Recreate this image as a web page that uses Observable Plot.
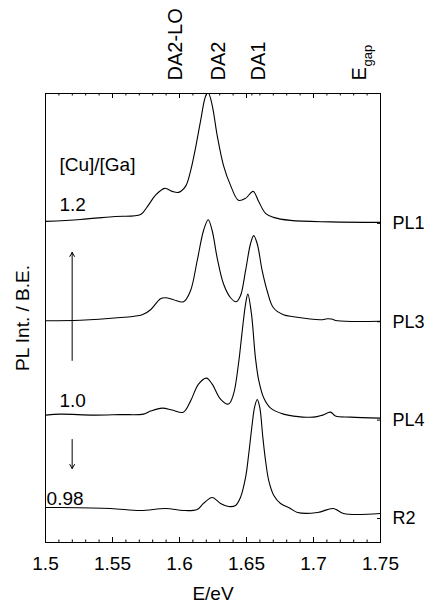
<!DOCTYPE html>
<html><head><meta charset="utf-8">
<script src="https://cdn.jsdelivr.net/npm/d3@7"></script>
<script src="https://cdn.jsdelivr.net/npm/@observablehq/plot@0.6"></script>
<style>
body{margin:0;background:#fff}
svg{font-family:"Liberation Sans",Arial,sans-serif}
</style>
</head><body><div id="chart"></div>
<script>
// Trace names (right axis) and vertical offsets of each baseline
const traceNames = ["R2", "PL4", "PL3", "PL1"];
const traceOffsets = [0, 10, 20, 30];

// [E (eV), intensity above baseline]
const pl1 = [[1.500,0.2],[1.526,0.4],[1.552,0.7],[1.571,0.9],[1.576,1.7],[1.582,2.85],[1.589,3.56],[1.5946,3.25],[1.5993,3.15],[1.6045,3.76],[1.6082,5.29],[1.6119,7.63],[1.6157,10.4],[1.6194,12.9],[1.6214,13.3],[1.6244,12.0],[1.6281,8.95],[1.6328,5.9],[1.6381,3.86],[1.644,2.34],[1.6493,2.54],[1.655,3.25],[1.659,2.24],[1.6642,1.02],[1.6701,0.61],[1.6828,0.3],[1.7127,0.15],[1.75,0.1]];
const pl3 = [[1.5,0.1],[1.526,0.15],[1.5537,0.4],[1.5722,0.7],[1.5784,1.22],[1.5858,2.34],[1.5896,2.44],[1.5955,2.24],[1.603,2.03],[1.6082,3.15],[1.6132,6.2],[1.6179,9.25],[1.6214,10.37],[1.6244,9.25],[1.6281,6.5],[1.6328,3.86],[1.6381,2.44],[1.6423,2.03],[1.6455,2.64],[1.6493,5.19],[1.653,7.93],[1.6554,8.75],[1.658,7.93],[1.6617,5.19],[1.6654,3.15],[1.6701,1.42],[1.6776,0.71],[1.6851,0.51],[1.7052,0.2],[1.7104,0.3],[1.7134,0.27],[1.7179,0.1],[1.75,0.05]];
const pl4 = [[1.5,0.51],[1.5112,0.61],[1.5358,0.51],[1.556,0.56],[1.5731,0.61],[1.5784,0.92],[1.5871,1.22],[1.5946,1.02],[1.6028,0.81],[1.6082,1.93],[1.6142,3.66],[1.6201,4.27],[1.6244,3.66],[1.6306,2.14],[1.6366,1.63],[1.6403,2.64],[1.644,5.7],[1.6468,9.05],[1.6493,11.8],[1.651,12.81],[1.6537,10.8],[1.6567,6.3],[1.6592,4.0],[1.6629,2.24],[1.668,1.22],[1.6776,0.61],[1.6851,0.41],[1.7,0.3],[1.7067,0.51],[1.7127,0.81],[1.7164,0.41],[1.7276,0.3],[1.75,0.2]];
const r2 = [[1.5,1.12],[1.5112,1.12],[1.5485,1.02],[1.5709,0.81],[1.5896,1.02],[1.603,0.81],[1.6132,0.92],[1.6179,1.53],[1.6244,2.14],[1.6306,1.53],[1.6366,1.22],[1.6418,1.32],[1.6455,2.14],[1.6493,4.17],[1.6517,6.61],[1.6543,9.66],[1.656,11.29],[1.658,12.1],[1.6599,11.29],[1.6622,8.24],[1.6642,5.9],[1.6666,3.86],[1.6704,2.34],[1.6754,1.53],[1.6828,1.02],[1.6881,0.61],[1.703,0.61],[1.7149,1.02],[1.7224,0.51],[1.75,0.51]];

// Axis ticks and labels
const majorTicks = [1.5, 1.55, 1.6, 1.65, 1.7, 1.75];
const tickLabels = ["1.5", "1.55", "1.6", "1.65", "1.7", "1.75"];
const minorTicks = d3.range(0, 26).map(i => +(1.5 + i * 0.01).toFixed(2));
const topExtraTicks = [1.654];

// Peak labels on top
const peakLabels = ["DA2-LO", "DA2", "DA1", "E"];
const peakPos = [1.591, 1.6231, 1.653, 1.7283];

// Annotations
const noteTexts = ["[Cu]/[Ga]", "1.2", "1.0", "0.98"];
const noteX = [1.5104, 1.5104, 1.5104, 1.5008];
const noteY = [35.9, 31.83, 12.0, 2.03];
const arrowX = 1.5199;
const arrowsY1 = [16.07, 8.03];
const arrowsY2 = [27.05, 5.08];

const rows = [];
[r2, pl4, pl3, pl1].forEach((t, k) =>
  t.forEach(([e, v]) => rows.push({trace: traceNames[k], E: e, I: v + traceOffsets[k]})));

// layout
const W = 433, H = 602, mL = 45, mR = 53, mT = 93, mB = 60;
const frameH = H - mT - mB, frameW = W - mL - mR;
const majorLen = 5, minorLen = 2.5, rightLen = 3;

const chart = Plot.plot({
  width: W, height: H,
  marginLeft: mL, marginRight: mR, marginTop: mT, marginBottom: mB,
  style: {fontFamily: '"Liberation Sans", Arial, sans-serif', fontSize: "19px", color: "black", background: "white"},
  x: {domain: [1.5, 1.75], label: null},
  y: {domain: [-2.44, 43.2], label: null},
  marks: [
    Plot.line(rows, {x: "E", y: "I", z: "trace", stroke: "black", strokeWidth: 1.1, curve: "catmull-rom", clip: true}),
    Plot.frame({stroke: "black", strokeWidth: 1}),
    // inward ticks
    Plot.ruleX(minorTicks, {x: d => d, insetTop: frameH - minorLen, stroke: "black"}),
    Plot.ruleX(majorTicks, {x: d => d, insetTop: frameH - majorLen, stroke: "black"}),
    Plot.ruleX(minorTicks, {x: d => d, insetBottom: frameH - minorLen, stroke: "black"}),
    Plot.ruleX(majorTicks, {x: d => d, insetBottom: frameH - majorLen, stroke: "black"}),
    Plot.ruleX(topExtraTicks, {x: d => d, insetBottom: frameH - minorLen, stroke: "black"}),
    Plot.ruleY(traceOffsets, {y: d => d, insetLeft: frameW - rightLen, stroke: "black"}),
    Plot.axisX({anchor: "bottom", ticks: majorTicks, tickSize: 0, tickPadding: 14, fontSize: 19,
      tickFormat: d => tickLabels[majorTicks.indexOf(d)], label: null}),
    Plot.axisY({anchor: "right", ticks: traceOffsets, tickSize: 0, tickPadding: 12, fontSize: 18,
      tickFormat: d => traceNames[traceOffsets.indexOf(d)], label: null}),
    // axis titles
    Plot.text(["E/eV"], {frameAnchor: "bottom", dy: 57, lineAnchor: "bottom", fontSize: 19}),
    Plot.text(["PL Int. / B.E."], {frameAnchor: "left", dx: -23, rotate: -90, textAnchor: "middle", fontSize: 19}),
    // peak labels
    Plot.text(peakLabels, {x: peakPos, text: d => d, frameAnchor: "top", dy: -13, rotate: -90, textAnchor: "start", fontSize: 20}),
    Plot.text(["gap"], {x: [peakPos[3]], text: d => d, frameAnchor: "top", dy: -27, dx: 11, rotate: -90, textAnchor: "start", fontSize: 13}),
    // annotations
    Plot.text(noteTexts, {x: noteX, y: noteY, text: d => d, textAnchor: "start", fontSize: 19}),
    Plot.arrow(arrowsY1, {x1: () => arrowX, x2: () => arrowX, y1: d => d, y2: (d, i) => arrowsY2[i], stroke: "black", strokeWidth: 1, headLength: 7, bend: 0})
  ]
});
document.getElementById("chart").append(chart);
</script>
</body></html>
